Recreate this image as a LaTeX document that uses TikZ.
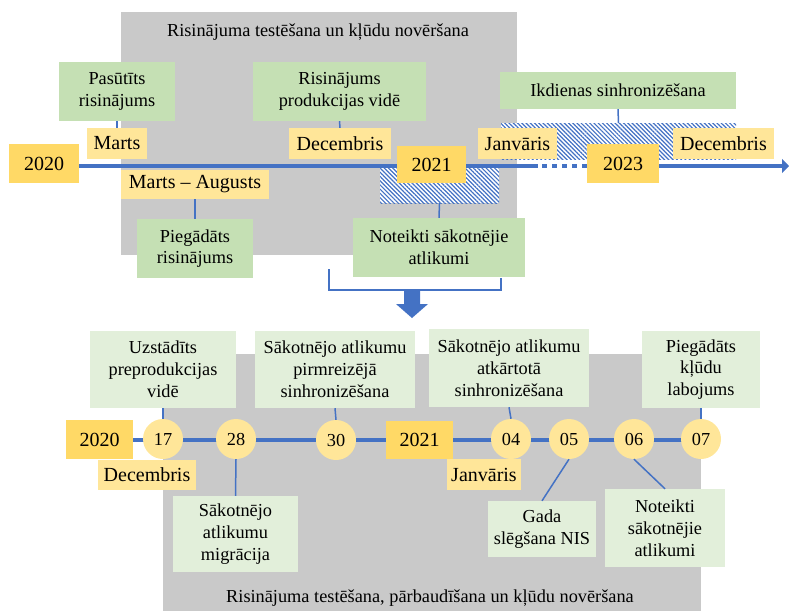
\documentclass[tikz,border=0pt]{standalone}
\usepackage{fontspec}
\setmainfont{Liberation Serif}
\newfontfamily\tnr{Liberation Serif}
\usetikzlibrary{patterns.meta,arrows.meta}
\definecolor{tlblue}{HTML}{4472C4}
\definecolor{yeardark}{HTML}{FFD966}
\definecolor{monthyel}{HTML}{FFE699}
\definecolor{grn}{HTML}{C5E0B4}
\definecolor{lgrn}{HTML}{E2EFDA}
\definecolor{bggray}{HTML}{C9C9C9}
\newcommand\bx[7]{\node[#6, minimum width={(#4-#2)*1pt}, minimum height={(#5-#3)*1pt}] (#1) at ({(#2+#4)/2},{(#3+#5)/2}) {#7};}
\tikzset{
  box/.style={inner sep=0pt, align=center, font=\tnr\fontsize{18.3}{21.8}\selectfont},
  gbox/.style={box, fill=grn},
  lgbox/.style={box, fill=lgrn},
  bgbox/.style={inner sep=0pt, fill=bggray},
  yr/.style={inner sep=0pt, fill=yeardark, font=\tnr\fontsize{20}{24}\selectfont},
  mon/.style={inner sep=0pt, fill=monthyel, font=\tnr\fontsize{20}{24}\selectfont},
  day/.style={circle, fill=monthyel, minimum size=40pt, inner sep=0pt, font=\tnr\fontsize{18.3}{22}\selectfont},
  tl/.style={draw=tlblue, line width=4.5pt},
  conn/.style={draw=tlblue, line width=1.5pt},
  bracket/.style={draw=tlblue, line width=2.5pt},
  hatch/.style={inner sep=0pt, fill=white, postaction={pattern={Lines[angle=-45,distance=3pt,line width=1.2pt]}, pattern color=tlblue}},
  ttl/.style={inner sep=0pt, font=\tnr\fontsize{18.3}{22}\selectfont}
}
\begin{document}
\begin{tikzpicture}[x=1pt,y=-1pt]
\useasboundingbox (0,0) rectangle (789,611);
% ---------- top part ----------
\bx{bg1}{121}{12}{517}{255}{bgbox}{}
\node[ttl] (ttl1) at (318,32) {Risinājuma testēšana un kļūdu novēršana};
\bx{h1}{380}{166}{499}{203}{hatch}{}
\bx{h2}{501}{123}{736}{159}{hatch}{}
\coordinate (t0) at (79,166);
\coordinate (t1) at (538,166);
\coordinate (t2) at (587,166);
\coordinate (tend) at (789,166);
\draw[tl] (t0) -- (t1);
\draw[tl, dash pattern=on 5pt off 5pt, dash phase=-4pt] (t1) -- (t2);
\draw[tl, -{Triangle[length=7pt,width=14pt]}] (t2) -- (tend);
\bx{pas}{59}{62}{175}{121}{gbox}{Pasūtīts\\risinājums}
\bx{prod}{253}{62}{426}{121}{gbox}{Risinājums\\produkcijas vidē}
\bx{ikd}{500}{72}{736}{109}{gbox}{Ikdienas sinhronizēšana}
\bx{marts}{87}{128}{147}{159}{mon}{Marts}
\bx{dec1}{289}{128}{391}{159}{mon}{Decembris}
\bx{jan1}{478}{128}{557}{159}{mon}{Janvāris}
\bx{dec2}{673}{128}{774}{159}{mon}{Decembris}
\bx{y2020}{9}{144}{79}{183}{yr}{2020}
\bx{y2021}{397}{146}{466}{183}{yr}{2021}
\bx{y2023}{587}{144}{659}{183}{yr}{2023}
\bx{ma}{121}{170}{269}{199}{mon}{Marts – Augusts}
\bx{pieg}{137}{219}{253}{278}{gbox}{Piegādāts\\risinājums}
\bx{not1}{353}{218}{525}{277}{gbox}{Noteikti sākotnējie\\atlikumi}
\draw[conn] (pas.south) -- (marts.north);
\draw[conn] (prod.south) -- (dec1.north);
\draw[conn] (ikd.south) -- (h2.north);
\draw[conn] (ma.south) -- (pieg.north);
\draw[conn] (h1.south) -- (not1.north);
% bracket and block arrow
\coordinate (br1) at (329,269);
\coordinate (br2) at (329,290);
\coordinate (br3) at (501,290);
\coordinate (br4) at (501,278);
\draw[bracket] (br1) -- (br2) -- (br3) -- (br4);
\fill[tlblue] (404,289) -- (420,289) -- (420,304) -- (428,304) -- (412,318) -- (396,304) -- (404,304) -- cycle;
% ---------- bottom part ----------
\bx{bg2}{163}{354}{701}{611}{bgbox}{}
\node[ttl] (ttl2) at (430,598) {Risinājuma testēšana, pārbaudīšana un kļūdu novēršana};
\coordinate (bl0) at (133,440);
\coordinate (bl1) at (701,440);
\draw[tl] (bl0) -- (bl1);
\bx{b2020}{66}{420}{133}{459}{yr}{2020}
\bx{b2021}{386}{421}{453}{459}{yr}{2021}
\node[day] (c17) at (163,439) {17};
\node[day] (c28) at (236,439) {28};
\node[day] (c30) at (336,440) {30};
\node[day] (c04) at (511,439) {04};
\node[day] (c05) at (569,439) {05};
\node[day] (c06) at (634,439) {06};
\node[day] (c07) at (701,439) {07};
\bx{uzs}{90}{331}{236}{408}{lgbox}{Uzstādīts\\preprodukcijas\\vidē}
\bx{sak1}{255}{331}{415}{408}{lgbox}{Sākotnējo atlikumu\\pirmreizējā\\sinhronizēšana}
\bx{sak2}{429}{329}{589}{407}{lgbox}{Sākotnējo atlikumu\\atkārtotā\\sinhronizēšana}
\bx{pkl}{642}{331}{760}{408}{lgbox}{Piegādāts\\kļūdu\\labojums}
\bx{bdec}{98}{460}{196}{490}{mon}{Decembris}
\bx{bjan}{447}{459}{521}{490}{mon}{Janvāris}
\bx{mig}{173}{496}{298}{572}{lgbox}{Sākotnējo\\atlikumu\\migrācija}
\bx{gada}{488}{501}{596}{557}{lgbox}{Gada\\slēgšana NIS}
\bx{not2}{605}{489}{725}{567}{lgbox}{Noteikti\\sākotnējie\\atlikumi}
\draw[conn] (uzs.south) -- (c17.north);
\draw[conn] (sak1.south) -- (c30.north);
\draw[conn] (sak2.south) -- (c04.north);
\draw[conn] (pkl.south) -- (c07.north);
\draw[conn] (c28.south) -- (mig.north);
\draw[conn] (c05.south) -- (gada.north);
\draw[conn] (c06.south) -- (not2.north);
\end{tikzpicture}
\end{document}
